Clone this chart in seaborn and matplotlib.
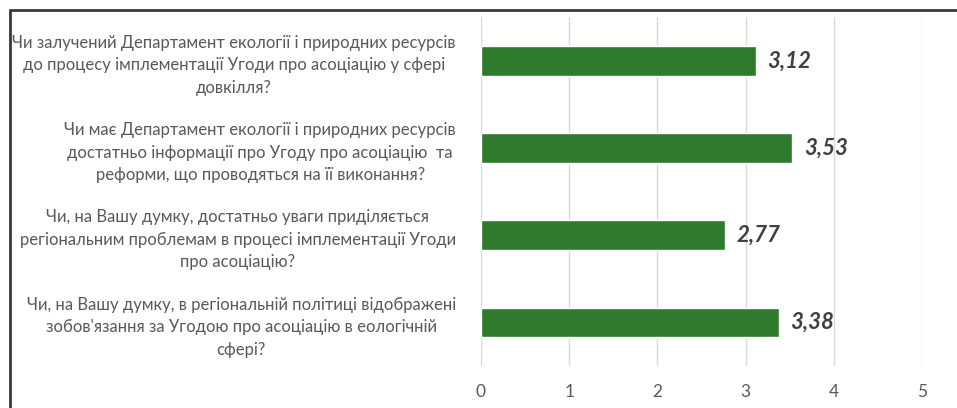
import matplotlib
matplotlib.use("Agg")
import matplotlib.pyplot as plt
from matplotlib.lines import Line2D
import seaborn as sns
import pandas as pd

questions = [
    "Чи залучений Департамент екології і природних ресурсів\nдо процесу імплементації Угоди про асоціацію у сфері\nдовкілля?",
    "Чи має Департамент екології і природних ресурсів\nдостатньо інформації про Угоду про асоціацію  та\nреформи, що проводяться на її виконання?",
    "Чи, на Вашу думку, достатньо уваги приділяється\nрегіональним проблемам в процесі імплементації Угоди\nпро асоціацію?",
    "Чи, на Вашу думку, в регіональній політиці відображені\nзобов'язання за Угодою про асоціацію в еологічній\nсфері?",
]
scores = [3.12, 3.53, 2.77, 3.38]
x_ticks = [0, 1, 2, 3, 4, 5]

df = pd.DataFrame({"question": questions, "score": scores})

sns.set_theme(style="white")
plt.rcParams["font.family"] = ["Lato", "DejaVu Sans"]

fig = plt.figure(figsize=(9.57, 4.08), dpi=100)
ax = fig.add_axes([0.5026, 0.103, 0.4608, 0.855])

sns.barplot(data=df, x="score", y="question", orient="h", color="#2E7B2E",
            saturation=1, width=0.34, ax=ax)

ax.set_xlim(0, 5)
ax.set_xticks(x_ticks)
ax.set_xticklabels([str(t) for t in x_ticks])
ax.xaxis.grid(True, color="#D9D9D9", linewidth=1)
ax.set_axisbelow(True)
for s in ax.spines.values():
    s.set_visible(False)
ax.set_xlabel("")
ax.set_ylabel("")
ax.tick_params(axis="x", length=0, pad=13, labelsize=12.5, labelcolor="#595959")
ax.tick_params(axis="y", length=0, pad=18, labelsize=12, labelcolor="#595959")
for lbl in ax.get_yticklabels():
    lbl.set_multialignment("center")
    lbl.set_linespacing(1.5)

for patch, v in zip(ax.patches, scores):
    y = patch.get_y() + patch.get_height() / 2
    ax.text(v + 0.13, y, f"{v:.2f}".replace(".", ","), va="center", ha="left",
            fontsize=16, fontweight="bold", fontstyle="italic", color="#404040")

# frame along the top and left edges
fig.add_artist(Line2D([9.5 / 957, 9.5 / 957], [0, 1 - 10 / 408], transform=fig.transFigure,
                      color="#3A3A3A", linewidth=2))
fig.add_artist(Line2D([9.5 / 957, 1], [1 - 10 / 408, 1 - 10 / 408], transform=fig.transFigure,
                      color="#3A3A3A", linewidth=2))

fig.savefig("out.png", dpi=100)
